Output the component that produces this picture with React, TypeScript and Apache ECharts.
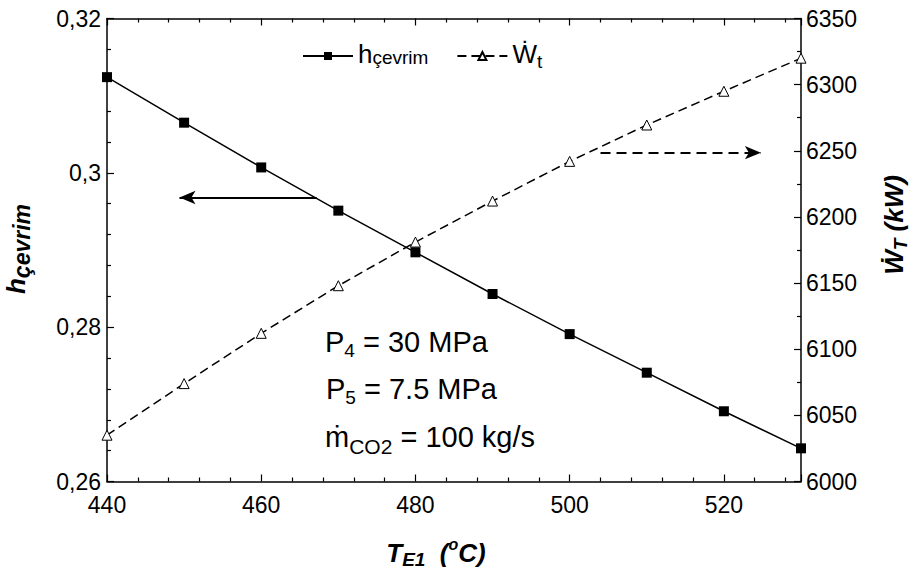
import React, { useEffect, useRef } from "react";
import * as echarts from "echarts";

// ---- data ----
const tempC = [440, 450, 460, 470, 480, 490, 500, 510, 520, 530];
const etaCycle = [0.3124, 0.3065, 0.3007, 0.2951, 0.2897, 0.2843, 0.2791, 0.2741, 0.2691, 0.2643];
const turbineWork = [6035, 6074, 6112, 6148, 6181, 6212, 6242, 6269.5, 6295, 6320];

// axis ranges / ticks
const xRange = [440, 530];
const xStep = 20;
const etaRange = [0.26, 0.32];
const etaStep = 0.02;
const workRange = [6000, 6350];
const workStep = 50;

// arrow annotations (data coordinates)
const etaArrow = [[467.2, 0.2968], [449.4, 0.2968]];
const workArrow = [[504.0, 6248.6], [524.8, 6248.6]];

const FONT = "'Liberation Sans', Arial, 'DejaVu Sans', sans-serif";

export default function App() {
  const ref = useRef<HTMLDivElement>(null);

  useEffect(() => {
    if (!ref.current) return;
    const chart = echarts.init(ref.current, null, { renderer: "svg" });

    const axisLine = { show: true, lineStyle: { color: "#000", width: 1.5 } };
    const tick = { show: true, inside: true, length: 7, lineStyle: { color: "#000", width: 1.2 } };
    const minor = (n: number) => ({ show: true, splitNumber: n, length: 4, lineStyle: { color: "#000", width: 1.2 } });
    const labelStyle = { color: "#000", fontSize: 23, fontFamily: FONT };

    const plain = { fontFamily: FONT, fill: "#000", verticalAlign: "top" };
    const mainRich = {
      a: { ...plain, fontSize: 29, lineHeight: 34 },
      b: { ...plain, fontSize: 19, lineHeight: 34, padding: [13.8, 0, 0, 0] },
      c: { ...plain, fontSize: 21, lineHeight: 34, padding: [13.8, 0, 0, 0] },
    };
    const bi = { ...plain, fontWeight: "bold", fontStyle: "italic" };
    const titleRich = {
      a: { ...bi, fontSize: 26, lineHeight: 30 },
      b: { ...bi, fontSize: 19, lineHeight: 30, padding: [10.2, 0, 0, 0] },
      s: { ...bi, fontSize: 23, lineHeight: 30, padding: [7.5, 0, 0, 0] },
    };
    const xTitleRich = {
      a: { ...bi, fontSize: 26, lineHeight: 34, padding: [4, 0, 0, 0] },
      b: { ...bi, fontSize: 19, lineHeight: 34, padding: [14.2, 0, 0, 0] },
      c: { ...bi, fontSize: 16, lineHeight: 34, padding: [0, 0, 0, 0] },
    };
    const legPlain = { fontFamily: FONT, color: "#000", verticalAlign: "top" };

    chart.setOption({
      animation: false,
      backgroundColor: "#fff",
      textStyle: { fontFamily: FONT },
      grid: { left: 107, right: 110, top: 18.5, bottom: 91.5, containLabel: false, outerBoundsMode: "none" },
      legend: {
        left: 297,
        top: 36,
        itemWidth: 50,
        itemHeight: 10,
        itemGap: 28,
        selectedMode: false,
        data: ["h", "W"],
        formatter: (name: string) => (name === "h" ? "{a|h}{b|çevrim}" : "{a|Ẇ}{t|t}"),
        textStyle: {
          color: "#000",
          rich: {
            a: { ...legPlain, fontSize: 26, lineHeight: 30 },
            b: { ...legPlain, fontSize: 19, lineHeight: 30, padding: [7, 0, 0, 0] },
            t: { ...legPlain, fontSize: 19, lineHeight: 30, padding: [11, 0, 0, 0] },
          },
        },
      },
      xAxis: [
        {
          type: "value",
          position: "bottom",
          min: xRange[0],
          max: xRange[1],
          interval: xStep,
          axisLine,
          axisTick: tick,
          minorTick: minor(5),
          splitLine: { show: false },
          axisLabel: {
            ...labelStyle,
            margin: 12,
            formatter: (v: number) => (v % xStep === 0 ? String(v) : ""),
          },
        },
        {
          type: "value",
          position: "top",
          min: xRange[0],
          max: xRange[1],
          interval: xStep,
          axisLine,
          axisTick: tick,
          minorTick: minor(5),
          splitLine: { show: false },
          axisLabel: { show: false },
        },
      ],
      yAxis: [
        {
          type: "value",
          position: "left",
          min: etaRange[0],
          max: etaRange[1],
          interval: etaStep,
          axisLine,
          axisTick: tick,
          minorTick: minor(5),
          splitLine: { show: false },
          axisLabel: {
            ...labelStyle,
            margin: 6,
            formatter: (v: number) => String(+v.toFixed(2)).replace(".", ","),
          },
        },
        {
          type: "value",
          position: "right",
          min: workRange[0],
          max: workRange[1],
          interval: workStep,
          axisLine,
          axisTick: tick,
          minorTick: minor(2),
          splitLine: { show: false },
          axisLabel: { ...labelStyle, margin: 5, formatter: (v: number) => String(v) },
        },
      ],
      series: [
        {
          name: "h",
          type: "line",
          xAxisIndex: 0,
          yAxisIndex: 0,
          data: tempC.map((t, i) => [t, etaCycle[i]]),
          symbol: "rect",
          symbolSize: 10,
          itemStyle: { color: "#000" },
          lineStyle: { color: "#000", width: 1.5 },
          z: 3,
          markLine: {
            silent: true,
            symbol: ["none", "arrow"],
            symbolSize: [10, 16],
            label: { show: false },
            lineStyle: { color: "#000", width: 2, type: "solid" },
            data: [[{ coord: etaArrow[0] }, { coord: etaArrow[1] }]],
          },
        },
        {
          name: "W",
          type: "line",
          xAxisIndex: 0,
          yAxisIndex: 1,
          data: tempC.map((t, i) => [t, turbineWork[i]]),
          symbol: "triangle",
          symbolSize: 10,
          itemStyle: { color: "#fff", borderColor: "#000", borderWidth: 1 },
          lineStyle: { color: "#000", width: 1.5, type: [9, 5] },
          z: 2,
          markLine: {
            silent: true,
            symbol: ["none", "arrow"],
            symbolSize: [10, 16],
            label: { show: false },
            lineStyle: { color: "#000", width: 2, type: [10, 6] },
            data: [[{ coord: workArrow[0] }, { coord: workArrow[1] }]],
          },
        },
      ],
      graphic: [
        {
          type: "text",
          x: 18,
          y: 249,
          rotation: Math.PI / 2,
          style: { text: "{a|h}{s|çevrim}", rich: titleRich, align: "center", verticalAlign: "middle" },
        },
        {
          type: "text",
          x: 896,
          y: 225,
          rotation: Math.PI / 2,
          style: { text: "{a|Ẇ}{b|T}{a| (kW)}", rich: titleRich, align: "center", verticalAlign: "middle" },
        },
        {
          type: "text",
          x: 436,
          y: 553,
          style: { text: "{a|T}{b|E1}{a|  (}{c|o}{a|C)}", rich: xTitleRich, align: "center", verticalAlign: "middle" },
        },
        {
          type: "text",
          x: 325,
          y: 344,
          style: { text: "{a|P}{b|4}{a| = 30 MPa}", rich: mainRich, align: "left", verticalAlign: "middle" },
        },
        {
          type: "text",
          x: 326,
          y: 391,
          style: { text: "{a|P}{b|5}{a| = 7.5 MPa}", rich: mainRich, align: "left", verticalAlign: "middle" },
        },
        {
          type: "text",
          x: 325,
          y: 439,
          style: { text: "{a|ṁ}{c|CO2}{a| = 100 kg/s}", rich: mainRich, align: "left", verticalAlign: "middle" },
        },
      ],
    });

    return () => chart.dispose();
  }, []);

  return (
    <div
      ref={ref}
      style={{ position: "absolute", left: 0, top: 0, width: 911, height: 573, background: "#fff" }}
    />
  );
}
